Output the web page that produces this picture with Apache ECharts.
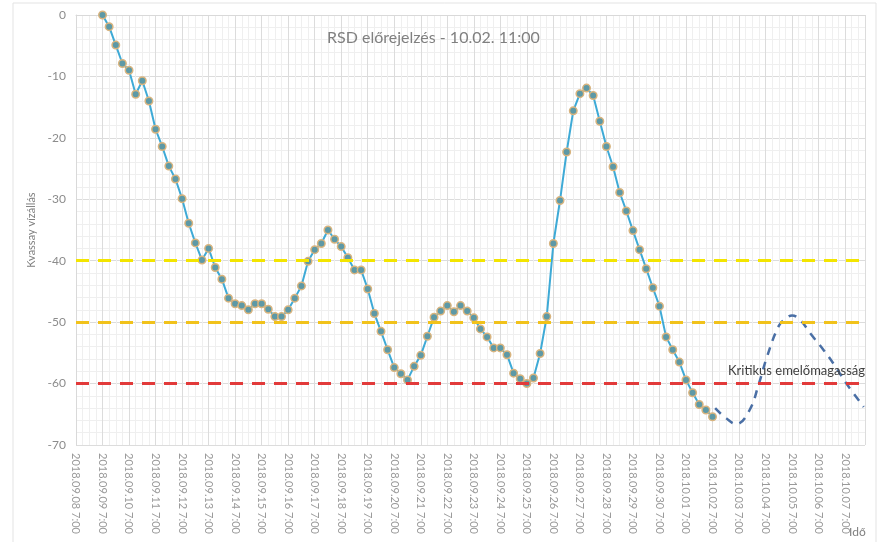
<!DOCTYPE html>
<html>
<head>
<meta charset="utf-8">
<script src="https://cdn.jsdelivr.net/npm/echarts@6/dist/echarts.min.js"></script>
<style>
html,body{margin:0;padding:0;background:#fff;}
#chart{width:881px;height:542px;}
</style>
</head>
<body>
<div id="chart"></div>
<script>
// Tick labels (one per day, x value = day index from 2018.09.08 7:00)
const tickLabels = [
  "2018.09.08 7:00","2018.09.09 7:00","2018.09.10 7:00","2018.09.11 7:00","2018.09.12 7:00",
  "2018.09.13 7:00","2018.09.14 7:00","2018.09.15 7:00","2018.09.16 7:00","2018.09.17 7:00",
  "2018.09.18 7:00","2018.09.19 7:00","2018.09.20 7:00","2018.09.21 7:00","2018.09.22 7:00",
  "2018.09.23 7:00","2018.09.24 7:00","2018.09.25 7:00","2018.09.26 7:00","2018.09.27 7:00",
  "2018.09.28 7:00","2018.09.29 7:00","2018.09.30 7:00","2018.10.01 7:00","2018.10.02 7:00",
  "2018.10.03 7:00","2018.10.04 7:00","2018.10.05 7:00","2018.10.06 7:00","2018.10.07 7:00"
];

// Observed water level, every 6 hours from 2018.09.09 7:00 to 2018.10.02 7:00
const obsStartDay = 1;
const obsStepDays = 0.25;
const observed = [
  0, -1.9, -4.9, -7.9, -9.0, -12.9, -10.7, -14.0, -18.6, -21.4,
  -24.6, -26.7, -29.9, -33.9, -37.1, -39.9, -38.0, -41.1, -43.0, -46.1,
  -47.0, -47.3, -48.0, -47.0, -47.0, -47.9, -49.1, -49.1, -48.0, -46.1,
  -44.1, -40.1, -38.2, -37.2, -35.0, -36.5, -37.7, -39.5, -41.5, -41.5,
  -44.6, -48.6, -51.5, -54.5, -57.4, -58.4, -59.4, -57.2, -55.4, -52.3,
  -49.2, -48.2, -47.3, -48.3, -47.3, -48.2, -49.3, -51.1, -52.4, -54.2,
  -54.2, -55.3, -58.3, -59.2, -60.0, -59.1, -55.1, -49.1, -37.2, -30.2,
  -22.3, -15.6, -12.8, -11.9, -13.1, -17.3, -21.4, -24.7, -28.9, -31.9,
  -35.1, -38.2, -41.3, -44.4, -47.4, -52.4, -54.5, -56.5, -59.4, -61.5,
  -63.4, -64.3, -65.4
];

// Forecast (dashed)
const forecastDays = [24.1, 24.5, 24.9, 25.4, 25.75, 26.05, 26.5, 26.8, 27.0, 27.3, 27.7, 28.2, 28.6, 29.05, 29.7];
const forecastValues = [-64.0, -65.6, -66.6, -64.3, -60.0, -55.7, -50.6, -49.3, -48.9, -49.6, -51.9, -54.6, -57.0, -60.0, -63.8];

// Threshold levels
const warnLevel1 = -40;
const warnLevel2 = -50;
const criticalLevel = -60;
const criticalLabel = "Kritikus emelőmagasság";

const titleText = "RSD előrejelzés - 10.02. 11:00";
const yAxisName = "Kvassay vízállás";
const xAxisName = "Idő";

const obsData = observed.map((v, i) => [obsStartDay + i * obsStepDays, v]);
const fcData = forecastDays.map((d, i) => [d, forecastValues[i]]);

const chart = echarts.init(document.getElementById('chart'), null, {renderer: 'canvas'});
const font = 'Lato, "Open Sans", sans-serif';

const hLine = (y, color) => ({
  yAxis: y,
  lineStyle: {color: color, width: 3, type: [13, 9]}
});

chart.setOption({
  animation: false,
  backgroundColor: '#ffffff',
  graphic: [{
    type: 'rect',
    shape: {x: 13, y: 3, width: 863, height: 545},
    style: {fill: 'none', stroke: '#e3e3e3', lineWidth: 1},
    silent: true,
    z: -10
  }, {
    type: 'text',
    left: 849,
    top: 526,
    style: {text: xAxisName, font: '12px ' + font, fill: '#7f7f7f'},
    silent: true
  }],
  title: {
    text: titleText,
    left: 322,
    top: 25,
    textStyle: {fontFamily: font, fontSize: 16, fontWeight: 'normal', color: '#808080'}
  },
  grid: {left: 76, right: 16, top: 15, bottom: 97},
  xAxis: {
    type: 'value',
    min: 0,
    max: 29.75,
    interval: 1,
    axisLine: {show: true, lineStyle: {color: '#d9d9d9', width: 1}},
    axisTick: {show: false},
    axisLabel: {
      rotate: -90,
      fontFamily: font,
      fontSize: 11,
      color: '#9a9a9a',
      margin: 8,
      showMaxLabel: false,
      formatter: (v) => {
        const i = Math.round(v);
        return Math.abs(v - i) < 1e-6 && tickLabels[i] ? tickLabels[i] : '';
      }
    },
    splitLine: {show: true, lineStyle: {color: '#dcdcdc', width: 1}},
    minorTick: {show: false, splitNumber: 4},
    minorSplitLine: {show: true, lineStyle: {color: '#efefef', width: 1}}
  },
  yAxis: {
    type: 'value',
    min: -70,
    max: 0,
    interval: 10,
    name: yAxisName,
    nameLocation: 'middle',
    nameGap: 34,
    nameRotate: 90,
    nameTextStyle: {fontFamily: font, fontSize: 11, color: '#7f7f7f'},
    axisLine: {show: true, lineStyle: {color: '#d9d9d9', width: 1}},
    axisTick: {show: false},
    axisLabel: {fontFamily: font, fontSize: 12, color: '#8c8c8c', margin: 10},
    splitLine: {show: true, lineStyle: {color: '#dcdcdc', width: 1}},
    minorTick: {show: false, splitNumber: 5},
    minorSplitLine: {show: true, lineStyle: {color: '#efefef', width: 1}}
  },
  series: [
    {
      type: 'line',
      name: 'levels',
      data: [],
      silent: true,
      markLine: {
        silent: true,
        symbol: ['none', 'none'],
        label: {show: false},
        data: [
          hLine(warnLevel1, '#f3e500'),
          hLine(warnLevel2, '#f1c21b'),
          Object.assign(hLine(criticalLevel, '#e23a3a'), {
            label: {
              show: true,
              position: 'insideEndTop',
              formatter: criticalLabel,
              fontFamily: font,
              fontSize: 13,
              color: '#404040',
              distance: [0, 6]
            }
          })
        ]
      }
    },
    {
      type: 'line',
      name: 'forecast',
      data: fcData,
      smooth: 0.4,
      showSymbol: false,
      lineStyle: {color: '#4a6fa5', width: 2.5, type: [8, 7]},
      z: 3
    },
    {
      type: 'line',
      name: 'observed',
      data: obsData,
      symbol: 'circle',
      symbolSize: 7.5,
      lineStyle: {color: '#3eaad6', width: 2},
      itemStyle: {color: '#5d99a6', borderColor: '#d9b47e', borderWidth: 1.5},
      z: 4
    }
  ]
});
</script>
</body>
</html>
